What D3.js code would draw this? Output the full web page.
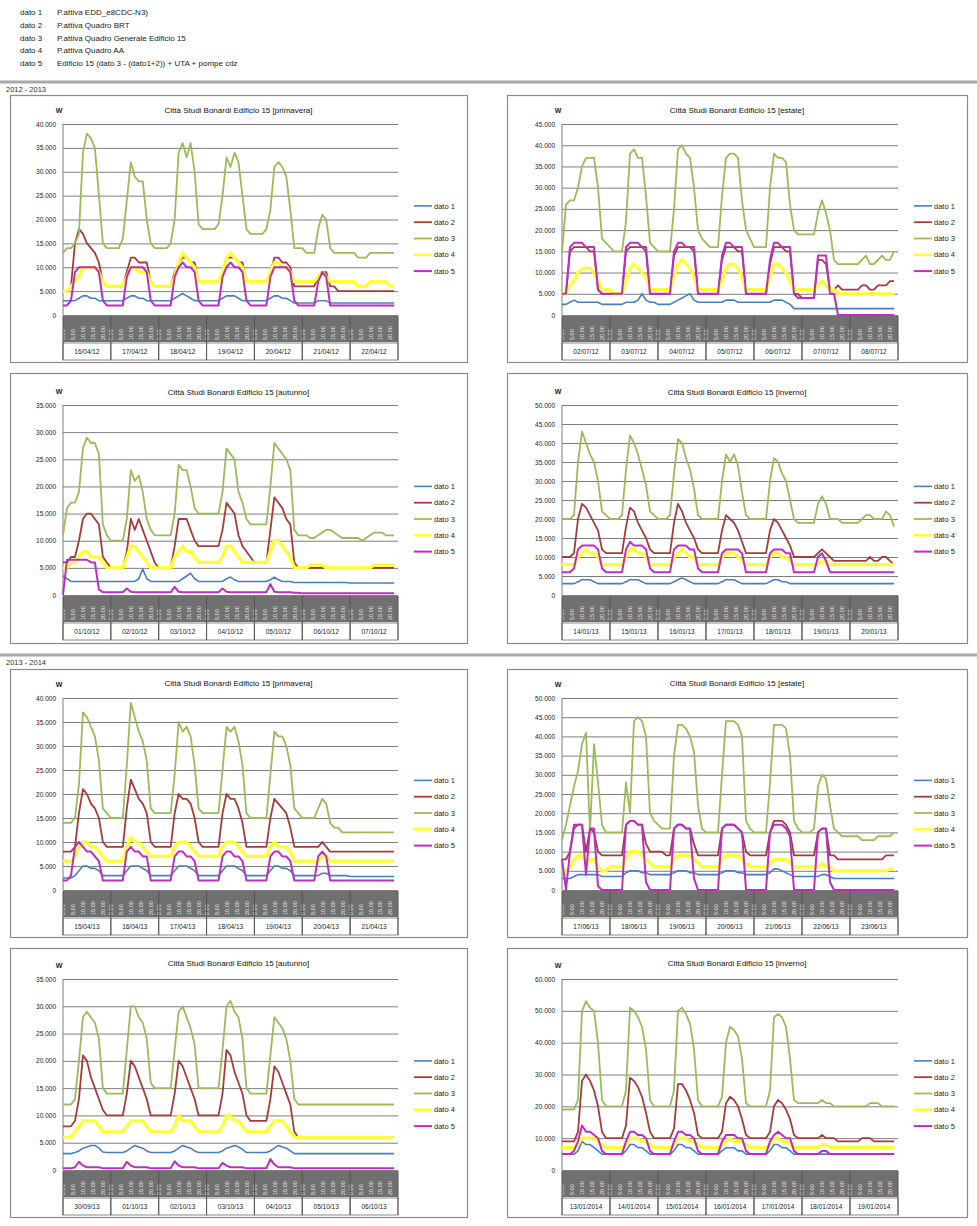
<!DOCTYPE html>
<html>
<head>
<meta charset="utf-8">
<script src="https://cdn.jsdelivr.net/npm/d3@7"></script>
<style>
body{margin:0;background:#fff;}
svg text{font-family:Arial,"Liberation Sans",sans-serif;}
</style>
</head>
<body>
<svg id="page" width="977" height="1226"></svg>
<script>
// legenda in testa
var datoNames = ["dato 1","dato 2","dato 3","dato 4","dato 5"];
var datoDesc = ["P.attiva EDD_e8CDC-N3)","P.attiva Quadro BRT","P.attiva Quadro Generale Edificio 15","P.attiva Quadro AA","Edificio 15 (dato 3 - (dato1+2)) + UTA + pompe cdz"];
var datoColors = ["#4a7ebb","#a23d3a","#9bbb59","#ffff33","#bb2fc0"];
var datoWidths = [1.6,1.8,1.8,3.2,2];
var sections = ["2012 - 2013","2013 - 2014"];
var titles = ["Città Studi Bonardi Edificio 15 [primavera]","Città Studi Bonardi Edificio 15 [estate]","Città Studi Bonardi Edificio 15 [autunno]","Città Studi Bonardi Edificio 15 [inverno]",
              "Città Studi Bonardi Edificio 15 [primavera]","Città Studi Bonardi Edificio 15 [estate]","Città Studi Bonardi Edificio 15 [autunno]","Città Studi Bonardi Edificio 15 [inverno]"];
var yMaxs = [40000,45000,35000,50000,40000,50000,35000,60000];
var ySteps = [5000,5000,5000,5000,5000,5000,5000,10000];
var hourLabels = [0,5,10,15,20];

var dates_p12 = ["16/04/12","17/04/12","18/04/12","19/04/12","20/04/12","21/04/12","22/04/12"];
var dates_e12 = ["02/07/12","03/07/12","04/07/12","05/07/12","06/07/12","07/07/12","08/07/12"];
var dates_a12 = ["01/10/12","02/10/12","03/10/12","04/10/12","05/10/12","06/10/12","07/10/12"];
var dates_i13 = ["14/01/13","15/01/13","16/01/13","17/01/13","18/01/13","19/01/13","20/01/13"];
var dates_p13 = ["15/04/13","16/04/13","17/04/13","18/04/13","19/04/13","20/04/13","21/04/13"];
var dates_e13 = ["17/06/13","18/06/13","19/06/13","20/06/13","21/06/13","22/06/13","23/06/13"];
var dates_a13 = ["30/09/13","01/10/13","02/10/13","03/10/13","04/10/13","05/10/13","06/10/13"];
var dates_i14 = ["13/01/2014","14/01/2014","15/01/2014","16/01/2014","17/01/2014","18/01/2014","19/01/2014"];

// valori in kW, un punto ogni 2 ore (12 per giorno)
var p12_d1 = [3,3,3,3,3.5,4,4,3.5,3.5,3,3,3,
  3,3,3,3,3.5,4,4,3.5,3.5,3,3,3,
  3,3,3,3,3.5,4,4.5,4,3.5,3,3,3,
  3,3,3,3,3.5,4,4,4,3.5,3,3,3,
  3,3,3,3,3.5,4,4,3.5,3.5,3,2.5,2.5,
  2.5,2.5,2.5,2.5,3,3,3,2.5,2.5,2.5,2.5,2.5,
  2.5,2.5,2.5,2.5,2.5,2.5,2.5,2.5,2.5,2.5,2.5,2.5];
var p12_d2 = [5,5,6,15,18,17,15,14,13,11,7,6,
  6,6,6,6,9,12,12,11,11,11,7,6,
  6,6,6,6,9,11,12,12,11,11,7,7,
  7,7,7,7,9,12,12,12,11,11,7,7,
  7,7,7,7,9,12,12,11,11,10,6,6,
  6,6,6,6,8,9,9,6,6,5,5,5,
  5,5,5,5,5,5,5,5,5,5,5,5];
var p12_d3 = [13,14,14,15,17,34,38,37,35,25,15,14,
  14,14,14,16,24,32,29,28,28,20,15,14,
  14,14,14,15,20,34,36,33,36,30,19,18,
  18,18,18,19,25,33,31,34,32,25,18,17,
  17,17,17,18,22,31,32,31,29,22,14,14,
  14,13,13,13,18,21,20,14,13,13,13,13,
  13,13,12,12,12,13,13,13,13,13,13,13];
var p12_d4 = [5,5,6,7,8,10,10,10,10,9,7,6,
  6,6,6,6,8,10,10,9,9,9,7,6,
  6,6,6,6,8,11,13,12,11,10,7,7,
  7,7,7,7,9,12,13,12,11,10,7,7,
  7,7,7,7,9,11,11,10,10,9,7,7,
  7,7,7,7,8,9,8,7,7,7,7,7,
  7,7,6,6,6,7,7,7,7,7,6,6];
var p12_d5 = [2,2,3,9,10,10,10,10,10,9,3,2,
  2,2,2,2,8,10,10,10,10,9,3,2,
  2,2,2,2,8,10,11,10,10,9,3,2,
  2,2,2,2,8,10,11,10,10,9,3,2,
  2,2,2,2,8,10,10,10,10,9,3,2,
  2,2,2,2,7,9,8,2,2,2,2,2,
  2,2,2,2,2,2,2,2,2,2,2,2];

var e12_d1 = [2.5,2.5,3,3.5,3,3,3,3,3,3,2.5,2.5,
  2.5,2.5,2.5,2.5,3,3,3,3.5,5,3.5,3,3,
  2.5,2.5,2.5,2.5,3,3.5,4,4.5,5,3.5,3,3,
  3,3,3,3,3,3.5,3.5,3.5,3,3,3,3,
  3,3,3,3,3,3.5,3.5,3.5,3,2.5,1.5,1.5,
  1.5,1.5,1.5,1.5,1.5,1.5,1.5,1.5,1.5,1.5,1.5,1.5,
  1.5,1.5,1.5,1.5,1.5,1.5,1.5,1.5,1.5,1.5,1.5,1.5];
var e12_d2 = [5,5,15,16,16,16,16,15,15,6,5,5,
  5,5,5,5,15,16,16,16,16,15,5,5,
  5,5,5,5,14,16,16,16,16,15,5,5,
  5,5,5,5,13,16,16,16,15,15,5,5,
  5,5,5,5,12,16,16,16,15,15,5,5,
  4,4,4,4,13,13,12,6,6,7,6,6,
  6,6,6,7,7,6,6,7,7,7,8,8];
var e12_d3 = [15,26,27,27,30,35,37,37,37,30,18,17,
  16,15,15,15,22,38,39,37,37,28,17,16,
  15,15,15,15,25,39,40,38,37,30,20,18,
  17,16,16,16,28,37,38,38,37,27,20,18,
  16,16,16,16,30,38,37,37,36,26,20,19,
  19,19,19,19,24,27,24,20,13,12,12,12,
  12,12,12,13,14,12,12,13,14,13,13,15];
var e12_d4 = [5,5,7,8,10,11,11,11,10,8,6,6,
  6,5,5,5,8,11,12,11,10,9,6,6,
  6,6,6,6,9,12,13,12,11,9,6,6,
  6,6,6,6,8,11,12,12,11,9,6,6,
  6,6,6,6,9,12,12,11,10,8,6,6,
  6,6,6,6,7,8,7,6,6,5,5,5,
  5,5,5,5,5,5,5,5,5,5,5,5];
var e12_d5 = [5,5,16,17,17,17,16,16,16,6,5,5,
  5,5,5,5,16,17,17,17,16,16,5,5,
  5,5,5,5,15,17,17,16,16,16,5,5,
  5,5,5,5,14,17,17,16,16,16,5,5,
  5,5,5,5,13,17,17,16,16,16,5,4,
  4,4,4,4,14,14,14,5,5,0,0,0,
  0,0,0,0,0,0,0,0,0,0,0,0];

var a12_d1 = [3.5,3,2.5,2.5,2.5,2.5,2.5,2.5,2.5,2.5,2.5,2.5,
  2.5,2.5,2.5,2.5,2.5,2.5,2.5,3,4.8,3,2.5,2.5,
  2.5,2.5,2.5,2.5,2.5,2.5,3,3.5,4,3,2.5,2.5,
  2.5,2.5,2.5,2.5,2.5,3,3.3,2.8,2.5,2.5,2.5,2.5,
  2.5,2.5,2.5,2.5,2.8,3.3,2.8,2.5,2.5,2.5,2.3,2.3,
  2.3,2.3,2.3,2.3,2.3,2.3,2.3,2.3,2.3,2.3,2.3,2.3,
  2.2,2.2,2.2,2.2,2.2,2.2,2.2,2.2,2.2,2.2,2.2,2.2];
var a12_d2 = [6,6,7,7,10,14,15,15,14,13,7,6,
  5,5,5,5,8,14,12,14,12,10,8,6,
  5,5,5,5,9,14,14,14,12,10,9,9,
  9,9,9,9,12,17,16,15,11,9,8,7,
  6,6,6,6,12,18,17,16,14,13,6,5,
  5,5,5,5,5,5,5,5,5,5,5,5,
  5,5,5,5,5,5,5,5,5,5,5,5];
var a12_d3 = [11,16,17,17,19,27,29,28,28,26,13,11,
  10,10,10,10,14,23,21,22,19,14,12,11,
  11,11,11,11,15,24,23,23,20,16,15,15,
  15,15,15,15,19,27,26,25,19,17,14,13,
  13,13,13,13,20,28,27,26,25,23,12,11,
  11,11,10.5,10.5,11,11.5,12,12,11.5,11,10.5,10.5,
  10.5,10.5,10.5,10,10.5,11,11.5,11.5,11.5,11,11,11];
var a12_d4 = [5,5,6,6,7,8,8,7,7,7,6,5,
  5,5,5,5,7,9,9,8,7,6,5,5,
  5,5,5,5,7,8,9,8,8,7,6,6,
  6,6,6,6,7,9,9,8,7,6,6,6,
  6,6,6,6,8,10,10,9,8,7,5,5,
  5,5,5.5,5.5,5.5,5.5,5,5,5,5,5,5,
  5,5,5,5,5,5,5.5,5.5,5.5,5.5,5.5,5.5];
var a12_d5 = [0,6.5,6.5,6.5,6.5,6.5,6.5,6,6,1,0.5,0.5,
  0.5,0.5,0.5,0.5,1.2,0.6,0.5,0.5,0.5,0.5,0.5,0.5,
  0.5,0.5,0.5,0.5,1.5,0.6,0.5,0.5,0.5,0.5,0.5,0.5,
  0.5,0.5,0.5,0.5,1.2,0.6,0.5,0.5,0.5,0.5,0.5,0.5,
  0.5,0.5,0.5,0.5,2,0.6,0.5,0.5,0.5,0.5,0.4,0.4,
  0.3,0.3,0.3,0.3,0.3,0.3,0.3,0.3,0.3,0.3,0.3,0.3,
  0.3,0.3,0.3,0.3,0.3,0.3,0.3,0.3,0.3,0.3,0.3,0.3];

var i13_d1 = [3,3,3,3,3.5,4,4,4,3.5,3,3,3,
  3,3,3,3,3.5,4,4,4,3.5,3,3,3,
  3,3,3,3,3.5,4,4.5,4,3.5,3,3,3,
  3,3,3,3,3.5,4,4,4,3.5,3,3,3,
  3,3,3,3,3.5,4,4,3.5,3.5,3,3,3,
  3,3,3,3,3,3,3,3,3,3,3,3,
  3,3,3,3,3,3,3,3,3,3,3,3];
var i13_d2 = [10,10,10,11,20,24,23,21,19,17,12,11,
  11,11,11,11,18,23,22,19,17,15,12,11,
  11,11,11,11,19,24,22,19,17,15,12,11,
  11,11,11,11,17,21,20,19,17,14,11,11,
  11,11,11,11,17,20,19,17,15,13,10,10,
  10,10,10,10,11,12,11,10,9,9,9,9,
  9,9,9,9,9,10,9,9,10,10,9,8];
var i13_d3 = [20,20,20,21,35,43,40,37,35,30,22,21,
  20,20,20,21,33,42,40,37,33,29,22,21,
  20,20,20,21,32,41,40,36,33,28,21,20,
  20,20,20,20,30,37,35,37,34,27,21,20,
  20,20,20,20,30,36,35,32,30,25,20,19,
  19,19,19,19,24,26,24,20,20,20,19,19,
  19,19,19,20,21,21,20,20,20,22,21,18];
var i13_d4 = [8,8,8,8,10,11,12,11,11,10,8,8,
  8,8,8,8,10,12,12,11,11,10,8,8,
  8,8,8,8,10,11,12,11,10,10,8,8,
  8,8,8,8,10,11,11,11,10,9,8,8,
  8,8,8,8,10,11,11,10,10,9,8,8,
  8,8,8,8,8,9,9,8,8,8,8,8,
  8,8,8,8,8,8,8,8,8,8,8,8];
var i13_d5 = [6,6,6,7,12,13,13,13,13,12,7,6,
  6,6,6,6,12,14,13,13,13,12,7,6,
  6,6,6,6,12,13,13,13,12,12,7,6,
  6,6,6,6,11,12,12,12,12,11,6,6,
  6,6,6,6,11,12,12,12,11,11,6,6,
  6,6,6,6,10,11,9,6,6,6,6,6,
  6,6,6,6,6,6,6,6,6,6,6,6];

var p13_d1 = [2.5,2.5,2.5,3,4,5,5,4.5,4.5,4,3,3,
  3,3,3,3,4,5,5,5,4.5,4,3,3,
  3,3,3,3,4,5,5,5,4.5,4,3,3,
  3,3,3,3,4,5,5,5,4.5,4,3,3,
  3,3,3,3,4,5,5,4.5,4.5,4,3,3,
  3,3,3,3,3,3.5,3.5,3,3,3,3,3,
  2.8,2.8,2.8,2.8,2.8,2.8,2.8,2.8,2.8,2.8,2.8,2.8];
var p13_d2 = [8,8,8,9,16,21,20,18,17,15,10,9,
  9,9,9,9,17,23,21,19,18,16,10,9,
  9,9,9,9,16,20,19,19,18,15,10,9,
  9,9,9,9,16,20,19,19,17,14,9,9,
  9,9,9,9,15,19,18,17,16,13,9,9,
  9,9,9,9,9,10,9,8,8,8,8,8,
  8,8,8,8,8,8,8,8,8,8,8,8];
var p13_d3 = [14,14,14,15,22,37,36,34,32,27,17,16,
  15,15,15,15,26,39,36,33,31,27,17,16,
  16,16,16,16,24,35,33,34,32,26,17,16,
  16,16,16,16,25,34,33,34,31,26,16,15,
  15,15,15,15,24,33,32,32,30,26,17,16,
  15,15,15,15,17,19,18,14,13,13,12,12,
  12,12,12,12,12,12,12,12,12,12,12,12];
var p13_d4 = [6,6,6,7,9,10,10,9,9,8,7,6,
  6,6,6,6,9,11,10,10,9,8,7,7,
  7,7,7,7,9,10,10,10,9,8,7,7,
  7,7,7,7,9,10,10,10,9,8,7,7,
  7,7,7,7,9,10,9,9,9,8,6,6,
  6,6,6,6,6,7,7,6,6,6,6,6,
  6,6,6,6,6,6,6,6,6,6,6,6];
var p13_d5 = [2,2,3,9,10,9,8,8,7,6,2,2,
  2,2,2,2,8,9,8,8,7,7,2,2,
  2,2,2,2,7,8,8,7,7,6,2,2,
  2,2,2,2,7,8,8,7,7,6,2,2,
  2,2,2,2,7,8,8,7,7,6,2,2,
  2,2,2,2,7,8,7,2,2,2,2,2,
  2,2,2,2,2,2,2,2,2,2,2,2];

var e13_d1 = [3,3,3,3.5,4,4,4,4,4,4,3.5,3.5,
  3.5,3.5,3.5,3.5,4.5,5,5,5,4.5,4.5,4,4,
  4,4,4,4,4.5,5,5,5,4.5,4.5,4,4,
  4,4,4,4,4.5,5,5,5,4.5,4.5,4,4,
  4,4,4,4,4.5,5.5,5.5,5,4.5,4,3.5,3.5,
  3.5,3.5,3.5,3.5,3.5,4,4,3.5,3,3,3,3,
  3,3,3,3,3,3,3,3,3,3,3,3];
var e13_d2 = [8,8,10,16,17,17,10,16,15,10,9,9,
  9,9,9,9,17,18,18,17,17,12,10,10,
  10,10,9,9,16,17,17,16,16,12,9,9,
  9,9,9,9,16,17,17,17,16,15,10,9,
  9,9,9,9,15,18,18,18,17,15,9,9,
  9,9,9,9,15,16,16,9,9,8,8,8,
  8,8,8,8,8,8,8,8,8,9,9,9];
var e13_d3 = [13,17,22,27,31,38,41,15,38,28,17,15,
  15,15,15,15,28,20,44,45,44,40,20,18,
  17,16,16,16,35,43,43,42,40,36,22,16,
  15,15,15,15,30,44,44,44,43,40,18,16,
  15,15,15,15,28,43,43,43,42,35,18,16,
  15,15,15,16,27,30,29,22,16,15,14,14,
  14,14,14,13,13,13,13,14,14,14,14,15];
var e13_d4 = [5,5,6,8,9,9,7,8,8,6,5,5,
  6,6,6,6,8,10,10,10,9,8,7,6,
  6,6,6,6,8,9,9,9,9,8,7,6,
  6,6,6,6,8,9,9,9,9,8,7,6,
  6,6,6,6,7,8,8,8,8,7,6,6,
  6,6,6,6,6,7,6,6,5,5,5,5,
  5,5,5,5,5,5,5,5,5,5,5.5,5.5];
var e13_d5 = [8,0,10,17,17,17,4,16,16,1,0,0,
  0,0,0,0,17,18,18,17,17,2,0,0,
  0,0,0,0,16,17,17,16,16,3,0,0,
  0,0,0,0,16,17,17,17,16,15,0,0,
  0,0,0,0,15,17,17,17,16,14,0,0,
  0,0,0,0,15,16,16,2,0,0,0,0,
  0,0,0,0,0,0,0,0,0,0,0,0];

var a13_d1 = [3,3,3,3.2,3.5,4,4.2,4.5,4.5,4,3.3,3.2,
  3.2,3.2,3.2,3.2,3.5,4,4.5,4.2,4,3.5,3.2,3.2,
  3.2,3.2,3.2,3.2,3.5,4,4.5,4.2,4,3.5,3.2,3.2,
  3.2,3.2,3.2,3.2,3.5,4,4.2,4.5,4.2,3.8,3.2,3.2,
  3.2,3.2,3.2,3.2,3.5,4,4.5,4.2,4,3.5,3,3,
  3,3,3,3,3,3,3,3,3,3,3,3,
  3,3,3,3,3,3,3,3,3,3,3,3];
var a13_d2 = [8,8,8,9,13,21,20,17,15,13,11,10,
  10,10,10,10,14,20,19,17,15,13,10,10,
  10,10,10,10,14,20,19,17,15,13,10,10,
  10,10,10,10,14,22,21,18,16,14,10,9,
  9,9,9,9,13,19,18,16,14,12,7,6,
  6,6,6,6,6,6,6,6,6,6,6,6,
  6,6,6,6,6,6,6,6,6,6,6,6];
var a13_d3 = [12,12,12,13,20,28,29,28,27,24,15,14,
  14,14,14,14,22,30,30,28,27,24,16,15,
  15,15,15,15,22,29,30,28,26,23,15,15,
  15,15,15,15,22,30,31,29,28,24,15,14,
  14,14,14,14,21,28,27,26,24,20,13,12,
  12,12,12,12,12,12,12,12,12,12,12,12,
  12,12,12,12,12,12,12,12,12,12,12,12];
var a13_d4 = [6,6,6,7,8,9,9,9,9,8,7,7,
  7,7,7,7,8,9,9,9,9,8,7,7,
  7,7,7,7,8,10,9,9,9,8,7,7,
  7,7,7,7,8,10,10,9,9,8,7,7,
  7,7,7,7,8,9,9,9,8,7,6,6,
  6,6,6,6,6,6,6,6,6,6,6,6,
  6,6,6,6,6,6,6,6,6,6,6,6];
var a13_d5 = [0.3,0.3,0.3,0.5,1.5,0.8,0.5,0.5,0.5,0.5,0.3,0.3,
  0.3,0.3,0.3,0.3,1.5,0.8,0.5,0.5,0.5,0.5,0.3,0.3,
  0.3,0.3,0.3,0.3,1.6,0.8,0.5,0.5,0.5,0.5,0.3,0.3,
  0.3,0.3,0.3,0.3,1.3,0.8,0.5,0.5,0.5,0.5,0.3,0.3,
  0.3,0.3,0.3,0.3,2,1,0.5,0.5,0.5,0.5,0.3,0.3,
  0.3,0.3,0.3,0.3,0.3,0.3,0.3,0.3,0.3,0.3,0.3,0.3,
  0.3,0.3,0.3,0.3,0.3,0.3,0.3,0.3,0.3,0.3,0.3,0.3];

var i14_d1 = [5,5,5,5,6,9,8,8,7,6,5,5,
  5,5,5,5,6,8,8,7,7,6,5,5,
  5,5,5,5,6,8,8,7,7,6,5,5,
  5,5,5,5,6,7,7,7,6,6,5,5,
  5,5,5,5,6,8,8,7,7,6,5,5,
  5,5,5,5,5,5,5,5,5,5,5,5,
  5,5,5,5,5,5,5,5,5,5,5,5];
var i14_d2 = [9,9,9,9,12,28,30,28,25,20,12,10,
  10,10,10,10,14,29,28,26,23,18,12,10,
  10,10,10,10,13,27,27,25,22,18,11,10,
  10,10,10,10,12,21,23,22,20,16,11,10,
  10,10,10,10,12,20,22,21,19,16,11,10,
  10,10,10,10,10,11,10,10,10,9,9,9,
  9,9,9,10,10,10,9,9,9,9,9,9];
var i14_d3 = [19,19,19,19,22,50,53,51,50,40,22,20,
  20,20,20,20,25,51,50,48,45,38,22,20,
  20,20,20,20,25,50,51,49,46,38,22,20,
  20,20,20,20,23,40,45,44,42,35,21,20,
  20,20,20,20,25,48,49,48,45,35,22,21,
  21,21,21,21,21,22,21,21,20,20,20,20,
  20,20,20,20,20,21,21,21,20,20,20,20];
var i14_d4 = [7,7,7,7,8,10,10,10,10,9,8,7,
  7,7,7,7,8,10,10,10,9,9,8,7,
  7,7,7,7,8,10,10,10,9,9,8,7,
  7,7,7,7,8,9,10,9,9,9,8,7,
  7,7,7,7,8,10,10,9,9,8,7,7,
  7,7,7,7,7,8,8,7,7,7,7,7,
  7,7,7,7,7,7,7,7,7,7,7,7];
var i14_d5 = [5,5,5,6,9,14,12,12,11,10,6,5,
  5,5,5,5,9,12,12,11,11,10,6,5,
  5,5,5,5,9,12,12,11,11,10,6,5,
  5,5,5,5,9,11,11,11,10,10,6,5,
  5,5,5,5,9,11,12,11,10,10,6,5,
  5,5,5,5,5,6,6,5,5,5,5,5,
  5,5,5,5,5,5,5,5,5,5,5,5];

var charts = [
  {dates:dates_p12, series:[p12_d1,p12_d2,p12_d3,p12_d4,p12_d5]},
  {dates:dates_e12, series:[e12_d1,e12_d2,e12_d3,e12_d4,e12_d5]},
  {dates:dates_a12, series:[a12_d1,a12_d2,a12_d3,a12_d4,a12_d5]},
  {dates:dates_i13, series:[i13_d1,i13_d2,i13_d3,i13_d4,i13_d5]},
  {dates:dates_p13, series:[p13_d1,p13_d2,p13_d3,p13_d4,p13_d5]},
  {dates:dates_e13, series:[e13_d1,e13_d2,e13_d3,e13_d4,e13_d5]},
  {dates:dates_a13, series:[a13_d1,a13_d2,a13_d3,a13_d4,a13_d5]},
  {dates:dates_i14, series:[i14_d1,i14_d2,i14_d3,i14_d4,i14_d5]}
];

// impaginazione
var cols = [{px:10, pw:457, l:63, r:398}, {px:507, pw:460, l:562, r:898}];
var rows = [{pt:95, pb:362, ty:110, t:124, b:315},
            {pt:373, pb:643, ty:392, t:405, b:595},
            {pt:669, pb:937, ty:683, t:698, b:890},
            {pt:948, pb:1217, ty:963, t:979, b:1170}];

var svg = d3.select("#page");
var itFormat = d3.formatLocale({decimal:",", thousands:".", grouping:[3], currency:["€",""]}).format(",d");

// testata
var head = svg.append("g");
head.selectAll("text.nm").data(datoNames).enter().append("text")
    .attr("x",20).attr("y",function(d,i){return 15+i*12.8;})
    .attr("font-size",8).attr("fill","#222").text(function(d){return d;});
head.selectAll("text.ds").data(datoDesc).enter().append("text")
    .attr("x",57).attr("y",function(d,i){return 15+i*12.8;})
    .attr("font-size",8).attr("fill","#222").text(function(d){return d;});

[82,655].forEach(function(yy,i){
  svg.append("rect").attr("x",0).attr("y",yy-1.5).attr("width",977).attr("height",3).attr("fill","#a8a8a8");
  svg.append("text").attr("x",6).attr("y",yy+10).attr("font-size",7.5).attr("fill","#333").text(sections[i]);
});

function drawChart(k){
  var cfg = charts[k];
  var col = cols[k%2], row = rows[Math.floor(k/2)];
  var g = svg.append("g");
  var x = d3.scaleLinear().domain([0,168]).range([col.l,col.r]);
  var y = d3.scaleLinear().domain([0,yMaxs[k]]).range([row.b,row.t]);

  g.append("rect").attr("x",col.px+0.5).attr("y",row.pt+0.5)
   .attr("width",col.pw).attr("height",row.pb-row.pt)
   .attr("fill","#fff").attr("stroke","#8a8a8a").attr("stroke-width",1.2);

  g.append("text").attr("x",col.px+col.pw/2).attr("y",row.ty+3)
   .attr("text-anchor","middle").attr("font-size",8).attr("fill","#111").text(titles[k]);
  g.append("text").attr("x",col.l-4).attr("y",row.t-11)
   .attr("text-anchor","middle").attr("font-size",7).attr("font-weight","bold").attr("fill","#222").text("W");

  var yAxis = d3.axisLeft(y).tickValues(d3.range(0,yMaxs[k]+1,ySteps[k]))
      .tickSize(-(col.r-col.l)).tickPadding(7).tickFormat(itFormat);
  var ya = g.append("g").attr("transform","translate("+col.l+",0)").call(yAxis);
  ya.select(".domain").remove();
  ya.selectAll(".tick line").attr("stroke","#7d7d7d").attr("stroke-width",1);
  ya.selectAll(".tick text").attr("font-size",6.5).attr("fill","#222");
  g.append("line").attr("x1",col.l).attr("x2",col.l).attr("y1",row.t).attr("y2",row.b)
   .attr("stroke","#7d7d7d");

  // banda ore
  var bandTop = row.b+1, bandH = 26, dateTop = row.b+28, dateH = 17;
  g.append("rect").attr("x",col.l).attr("y",bandTop).attr("width",col.r-col.l).attr("height",bandH)
   .attr("fill","#707070");
  var hourTicks = [];
  cfg.dates.forEach(function(dd,di){ hourLabels.forEach(function(h){ hourTicks.push(di*24+h); }); });
  var xa = g.append("g").attr("transform","translate(0,"+bandTop+")")
      .call(d3.axisBottom(x).tickValues(hourTicks).tickSize(0)
        .tickFormat(function(v){ return (v%24)+".00"; }));
  xa.select(".domain").remove();
  xa.selectAll(".tick text").attr("font-size",5.5).attr("fill","#e6e6e6")
    .attr("transform","rotate(-90)").attr("x",-bandH+2).attr("y",0).attr("dy","0.35em")
    .attr("text-anchor","start");

  // caselle date
  g.selectAll("rect.day").data(cfg.dates).enter().append("rect")
   .attr("x",function(d,i){return x(i*24);}).attr("y",dateTop)
   .attr("width",function(d,i){return x((i+1)*24)-x(i*24);}).attr("height",dateH)
   .attr("fill","#fff").attr("stroke","#8a8a8a");
  g.selectAll("line.sep").data(d3.range(cfg.dates.length+1)).enter().append("line")
   .attr("x1",function(d){return x(d*24);}).attr("x2",function(d){return x(d*24);})
   .attr("y1",bandTop).attr("y2",dateTop+dateH).attr("stroke","#555");
  g.selectAll("text.day").data(cfg.dates).enter().append("text")
   .attr("x",function(d,i){return x(i*24+12);}).attr("y",dateTop+11)
   .attr("text-anchor","middle").attr("font-size",6.5).attr("fill","#222").text(function(d){return d;});

  // serie
  var line = d3.line().x(function(d,i){return x(i*2);}).y(function(d){return y(d*1000);});
  cfg.series.forEach(function(s,si){
    g.append("path").datum(s).attr("d",line).attr("fill","none")
     .attr("stroke",datoColors[si]).attr("stroke-width",datoWidths[si]).attr("stroke-linejoin","round");
  });

  // legenda
  var legX = col.r+16, legMid = (row.t+row.b)/2+19;
  var lg = g.selectAll("g.leg").data(datoNames).enter().append("g")
     .attr("transform",function(d,i){return "translate("+legX+","+(legMid+(i-2)*16.3)+")";});
  lg.append("line").attr("x1",0).attr("x2",18).attr("y1",0).attr("y2",0)
    .attr("stroke",function(d,i){return datoColors[i];}).attr("stroke-width",function(d,i){return Math.min(datoWidths[i],2.5);});
  lg.append("text").attr("x",20).attr("y",0).attr("dy","0.35em").attr("font-size",7.5).attr("fill","#222")
    .text(function(d){return d;});
}

for (var k=0;k<charts.length;k++) drawChart(k);
</script>
</body>
</html>
